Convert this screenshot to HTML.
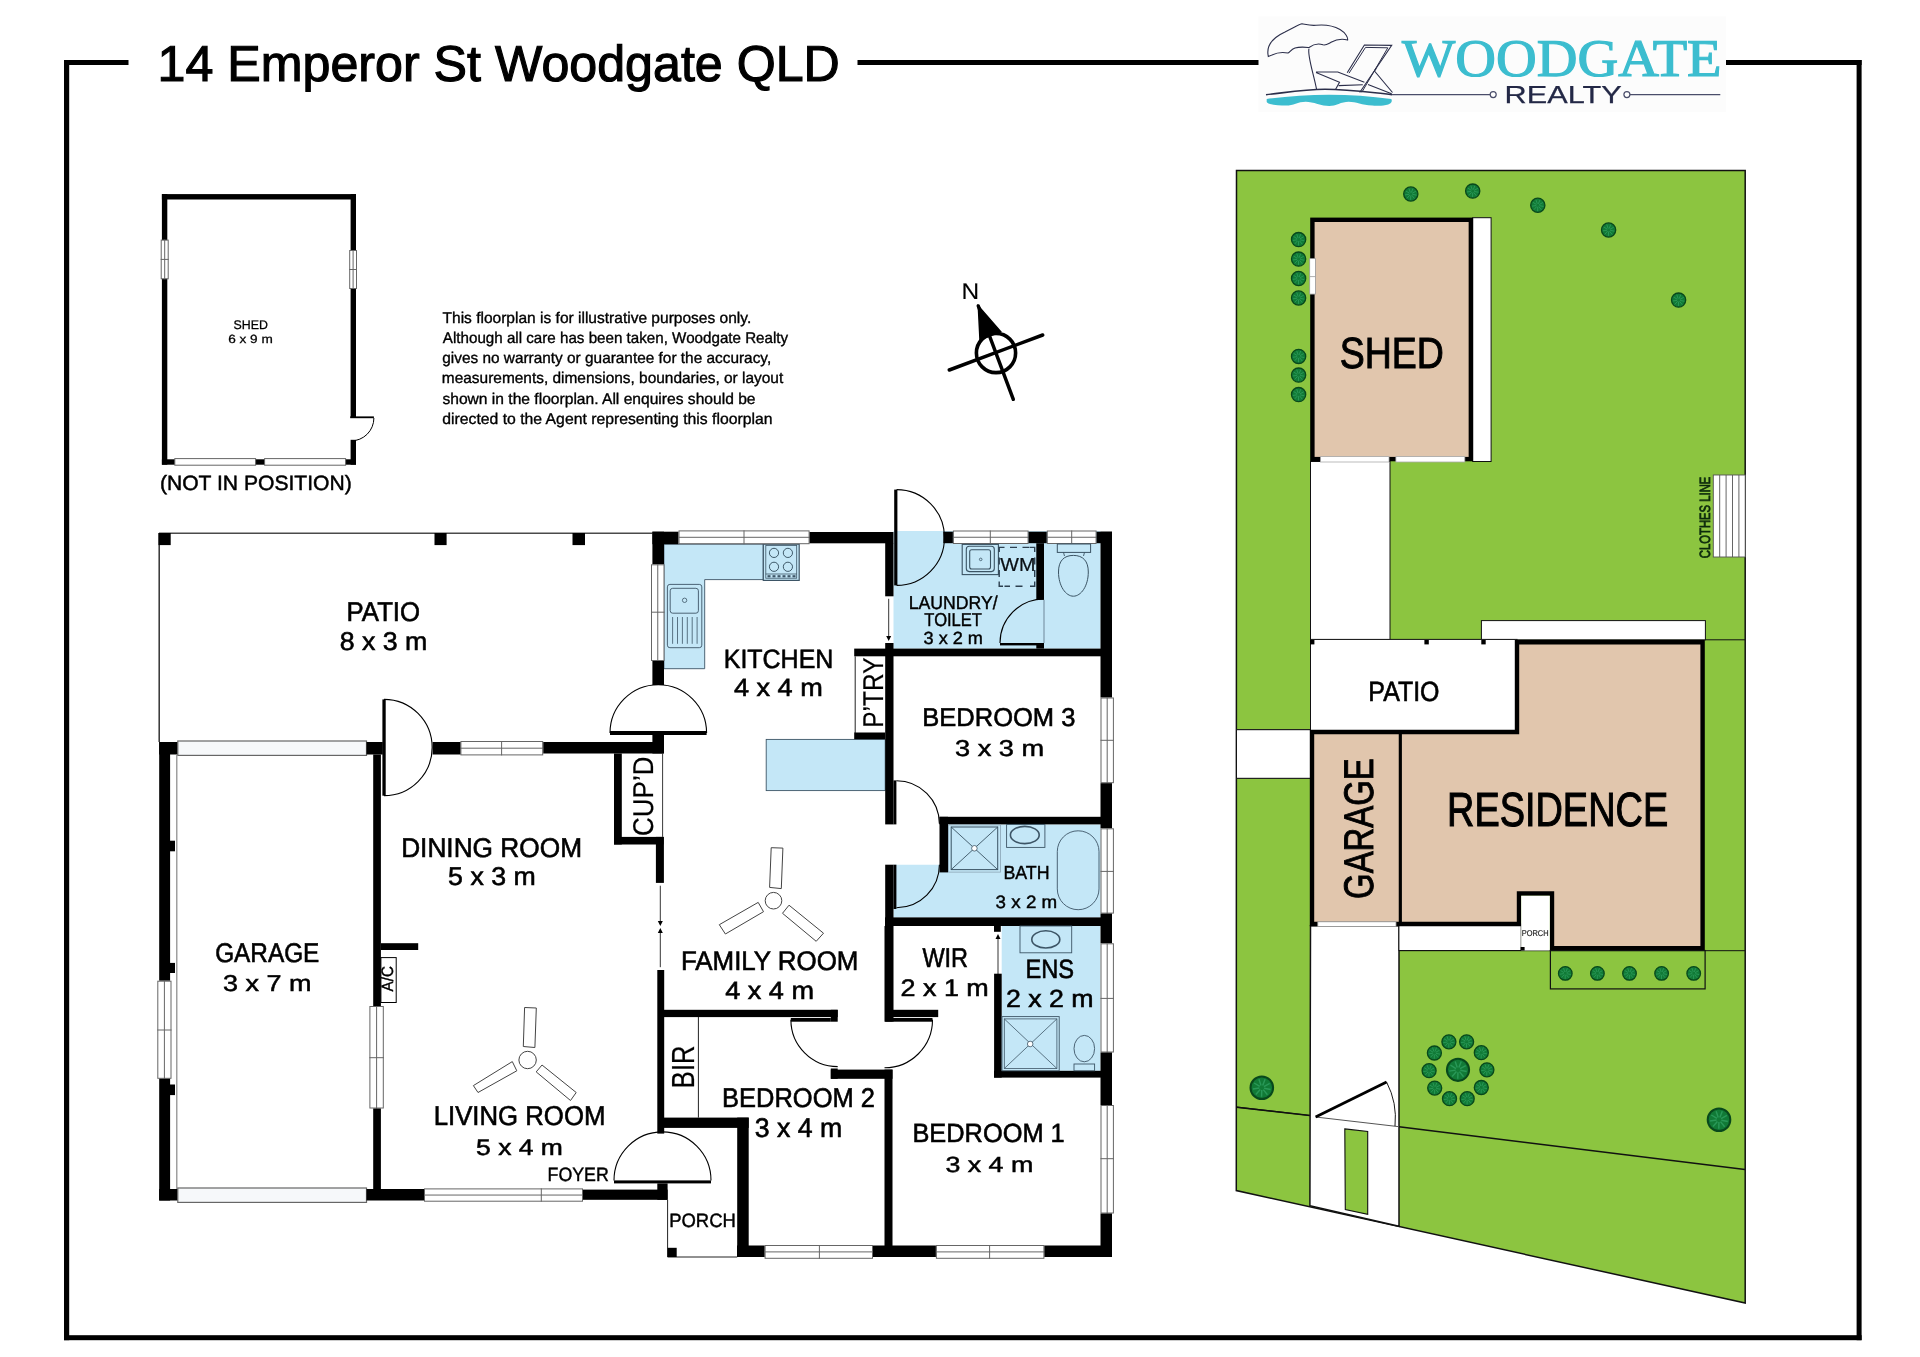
<!DOCTYPE html><html><head><meta charset="utf-8"><style>html,body{margin:0;padding:0;background:#fff;}svg{display:block;will-change:transform}</style></head><body>
<svg width="1920" height="1357" viewBox="0 0 1920 1357" text-rendering="geometricPrecision">
<rect width="1920" height="1357" fill="#fff"/>
<rect x="64" y="60" width="5.2" height="1280.2" fill="#000"/>
<rect x="64" y="60" width="64.5" height="5" fill="#000"/>
<rect x="857.5" y="60" width="402" height="5" fill="#000"/>
<rect x="1726" y="60" width="135.6" height="5" fill="#000"/>
<rect x="1856.6" y="60" width="5" height="1280.2" fill="#000"/>
<rect x="64" y="1335.2" width="1797.6" height="5" fill="#000"/>
<text x="157.56" y="81.13" font-size="50.51" fill="#000" text-anchor="start" font-family="Liberation Sans" textLength="682.27" lengthAdjust="spacingAndGlyphs" stroke="#000" stroke-width="1.15">14 Emperor St Woodgate QLD</text>
<rect x="161.9" y="194.1" width="194.1" height="5.4" fill="#000"/>
<rect x="161.9" y="194.1" width="5.4" height="270.6" fill="#000"/>
<rect x="350.6" y="194.1" width="5.4" height="223.4" fill="#000"/>
<rect x="350.6" y="439.8" width="5.4" height="24.9" fill="#000"/>
<rect x="161.9" y="459.3" width="194.1" height="5.4" fill="#000"/>
<rect x="161.2" y="240.1" width="7" height="38.7" fill="#fff" stroke="#666" stroke-width="1"/>
<line x1="164.7" y1="239.6" x2="164.7" y2="279.3" stroke="#666" stroke-width="1"/>
<line x1="160.7" y1="259.4" x2="168.7" y2="259.4" stroke="#666" stroke-width="1"/>
<rect x="349.7" y="250.5" width="6.8" height="38" fill="#fff" stroke="#666" stroke-width="1"/>
<line x1="353.1" y1="250" x2="353.1" y2="289" stroke="#666" stroke-width="1"/>
<line x1="349.2" y1="269.5" x2="357" y2="269.5" stroke="#666" stroke-width="1"/>
<rect x="350.2" y="416.4" width="23.7" height="1.8" fill="#000"/>
<path d="M373.9,418 A22.9,22.9 0 0 1 351,440.9" fill="none" stroke="#000" stroke-width="1"/>
<rect x="174.8" y="458.6" width="80.8" height="6.6" fill="#fff" stroke="#666" stroke-width="1"/>
<rect x="264.6" y="458.6" width="81" height="6.6" fill="#fff" stroke="#666" stroke-width="1"/>
<text x="233.58" y="329.36" font-size="12.52" fill="#000" text-anchor="start" font-family="Liberation Sans" textLength="34.37" lengthAdjust="spacingAndGlyphs" stroke="#000" stroke-width="0.28">SHED</text>
<text x="228.24" y="342.87" font-size="11.82" fill="#000" text-anchor="start" font-family="Liberation Sans" textLength="44.52" lengthAdjust="spacingAndGlyphs" stroke="#000" stroke-width="0.27">6 x 9 m</text>
<text x="159.93" y="489.86" font-size="20.68" fill="#000" text-anchor="start" font-family="Liberation Sans" textLength="191.84" lengthAdjust="spacingAndGlyphs" stroke="#000" stroke-width="0.47">(NOT IN POSITION)</text>
<text x="442.53" y="322.52" font-size="15.48" fill="#000" text-anchor="start" font-family="Liberation Sans" textLength="308.71" lengthAdjust="spacingAndGlyphs" stroke="#000" stroke-width="0.35">This floorplan is for illustrative purposes only.</text>
<text x="442.85" y="342.78" font-size="15.48" fill="#000" text-anchor="start" font-family="Liberation Sans" textLength="345.31" lengthAdjust="spacingAndGlyphs" stroke="#000" stroke-width="0.35">Although all care has been taken, Woodgate Realty</text>
<text x="442.23" y="363.04" font-size="15.48" fill="#000" text-anchor="start" font-family="Liberation Sans" textLength="328.97" lengthAdjust="spacingAndGlyphs" stroke="#000" stroke-width="0.35">gives no warranty or guarantee for the accuracy,</text>
<text x="441.85" y="383.3" font-size="15.48" fill="#000" text-anchor="start" font-family="Liberation Sans" textLength="341.39" lengthAdjust="spacingAndGlyphs" stroke="#000" stroke-width="0.35">measurements, dimensions, boundaries, or layout</text>
<text x="442.44" y="403.56" font-size="15.48" fill="#000" text-anchor="start" font-family="Liberation Sans" textLength="313.07" lengthAdjust="spacingAndGlyphs" stroke="#000" stroke-width="0.35">shown in the floorplan. All enquires should be</text>
<text x="442.22" y="423.82" font-size="15.48" fill="#000" text-anchor="start" font-family="Liberation Sans" textLength="330.33" lengthAdjust="spacingAndGlyphs" stroke="#000" stroke-width="0.35">directed to the Agent representing this floorplan</text>
<text x="961.55" y="299.34" font-size="22.65" fill="#000" text-anchor="start" font-family="Liberation Sans" textLength="17.69" lengthAdjust="spacingAndGlyphs" stroke="#000" stroke-width="0.11">N</text>
<circle cx="996" cy="353" r="19.6" fill="none" stroke="#000" stroke-width="3.6"/>
<line x1="949.3" y1="370" x2="1042.7" y2="335" stroke="#000" stroke-width="3.5" stroke-linecap="round"/>
<line x1="978.3" y1="306" x2="1013.3" y2="399.3" stroke="#000" stroke-width="3.5" stroke-linecap="round"/>
<path d="M978.3,306 L1000.7,331.7 L980,340 Z" fill="#000" stroke="#000" stroke-width="1.5"/>
<line x1="159" y1="533.2" x2="652.4" y2="533.2" stroke="#4a4a4a" stroke-width="1.6"/>
<line x1="159.2" y1="533" x2="159.2" y2="742" stroke="#333" stroke-width="1.5"/>
<rect x="158.5" y="533" width="12.2" height="12.1" fill="#000"/>
<rect x="434.5" y="533" width="12.1" height="12.1" fill="#000"/>
<rect x="572.5" y="533" width="12.5" height="12.1" fill="#000"/>
<text x="346.6" y="621.49" font-size="27.02" fill="#000" text-anchor="start" font-family="Liberation Sans" textLength="73.47" lengthAdjust="spacingAndGlyphs" stroke="#000" stroke-width="0.61">PATIO</text>
<text x="339.73" y="650.21" font-size="25.61" fill="#000" text-anchor="start" font-family="Liberation Sans" textLength="87.64" lengthAdjust="spacingAndGlyphs" stroke="#000" stroke-width="0.58">8 x 3 m</text>
<rect x="893.5" y="531" width="207" height="117.6" fill="#c4e7f7"/>
<path d="M948,824.4 H1100.5 V917.4 H893.5 V864.7 H948 Z" fill="#c4e7f7"/>
<rect x="1001.7" y="926" width="98.6" height="144.8" fill="#c4e7f7"/>
<path d="M663.9,544.2 H763.3 V579.6 H704.7 V668.7 H663.9 Z" fill="#c4e7f7" stroke="#3d5566" stroke-width="0.9"/>
<rect x="763.3" y="544.2" width="35.9" height="36.2" fill="#c4e7f7" stroke="#3d5566" stroke-width="1.2"/>
<rect x="765.8" y="545.5" width="30.9" height="32.7" fill="none" stroke="#3d5566" stroke-width="0.8"/>
<circle cx="774" cy="552.9" r="4.6" fill="none" stroke="#2f4858" stroke-width="0.9"/>
<circle cx="774" cy="566.8" r="4.6" fill="none" stroke="#2f4858" stroke-width="0.9"/>
<circle cx="787.9" cy="552.9" r="4.6" fill="none" stroke="#2f4858" stroke-width="0.9"/>
<circle cx="787.9" cy="566.8" r="4.6" fill="none" stroke="#2f4858" stroke-width="0.9"/>
<line x1="765.8" y1="574" x2="796.7" y2="574" stroke="#3d5566" stroke-width="0.8"/>
<rect x="767.5" y="575.2" width="3" height="2.1" fill="#3d5566"/>
<rect x="772.5" y="575.2" width="3" height="2.1" fill="#3d5566"/>
<rect x="777.5" y="575.2" width="3" height="2.1" fill="#3d5566"/>
<rect x="782.5" y="575.2" width="3" height="2.1" fill="#3d5566"/>
<rect x="787.5" y="575.2" width="3" height="2.1" fill="#3d5566"/>
<rect x="792.5" y="575.2" width="3" height="2.1" fill="#3d5566"/>
<rect x="667.4" y="584.4" width="34.4" height="63.3" rx="2.5" fill="none" stroke="#3d5566" stroke-width="0.9"/>
<rect x="670.2" y="588.3" width="28.2" height="24.9" rx="2.5" fill="none" stroke="#3d5566" stroke-width="0.9"/>
<circle cx="684.6" cy="600.3" r="2.2" fill="none" stroke="#3d5566" stroke-width="0.8"/>
<line x1="672.6" y1="617" x2="672.6" y2="643.8" stroke="#3d5566" stroke-width="0.8"/>
<line x1="677.5" y1="617" x2="677.5" y2="643.8" stroke="#3d5566" stroke-width="0.8"/>
<line x1="682.4" y1="617" x2="682.4" y2="643.8" stroke="#3d5566" stroke-width="0.8"/>
<line x1="687.3" y1="617" x2="687.3" y2="643.8" stroke="#3d5566" stroke-width="0.8"/>
<line x1="692.2" y1="617" x2="692.2" y2="643.8" stroke="#3d5566" stroke-width="0.8"/>
<line x1="697.1" y1="617" x2="697.1" y2="643.8" stroke="#3d5566" stroke-width="0.8"/>
<rect x="766.2" y="739.4" width="119" height="51.2" fill="#c4e7f7" stroke="#3d5566" stroke-width="0.9"/>
<rect x="652.4" y="531.7" width="11.6" height="32.6" fill="#000"/>
<rect x="651.5" y="564.8" width="12.5" height="95.7" fill="#fff" stroke="#666" stroke-width="1"/>
<line x1="657.75" y1="564.3" x2="657.75" y2="661" stroke="#666" stroke-width="1"/>
<line x1="651" y1="612.2" x2="664.5" y2="612.2" stroke="#666" stroke-width="1"/>
<rect x="652.4" y="661" width="11.6" height="24" fill="#000"/>
<rect x="652.4" y="531.7" width="26.1" height="12.5" fill="#000"/>
<rect x="679" y="530.9" width="130.1" height="12.8" fill="#fff" stroke="#666" stroke-width="1"/>
<line x1="678.5" y1="537.3" x2="809.6" y2="537.3" stroke="#666" stroke-width="1"/>
<line x1="744" y1="530.4" x2="744" y2="544.2" stroke="#666" stroke-width="1"/>
<rect x="809.6" y="532" width="83.9" height="11.3" fill="#000"/>
<path d="M610,733 A48.3,48.3 0 0 1 658.3,684.7 A48.3,48.3 0 0 1 706.6,733" fill="none" stroke="#000" stroke-width="1.1"/>
<rect x="610" y="731" width="96.6" height="4" fill="#000"/>
<rect x="652.4" y="735" width="11.6" height="18.5" fill="#000"/>
<rect x="543.2" y="742" width="120.3" height="11.5" fill="#000"/>
<rect x="460.9" y="741.5" width="81.8" height="13.4" fill="#fff" stroke="#666" stroke-width="1"/>
<line x1="460.4" y1="748.2" x2="543.2" y2="748.2" stroke="#666" stroke-width="1"/>
<line x1="501.6" y1="741" x2="501.6" y2="755.4" stroke="#666" stroke-width="1"/>
<rect x="432.6" y="742" width="27.8" height="12.5" fill="#000"/>
<rect x="382.4" y="699.4" width="3.3" height="96.3" fill="#000"/>
<path d="M384,699.35 A48.15,48.15 0 0 1 432.15,747.5 A48.15,48.15 0 0 1 384,795.65" fill="none" stroke="#000" stroke-width="1.1"/>
<rect x="159.2" y="742" width="18.6" height="12.5" fill="#000"/>
<rect x="177.8" y="741" width="188.7" height="14.4" fill="#f6f8fa" stroke="#666" stroke-width="1.2"/>
<rect x="366.5" y="742" width="16.3" height="12.5" fill="#000"/>
<rect x="159.2" y="742" width="10.9" height="238.7" fill="#000"/>
<rect x="157.8" y="981.2" width="13.2" height="97.1" fill="#fff" stroke="#666" stroke-width="1"/>
<line x1="164.4" y1="980.7" x2="164.4" y2="1078.8" stroke="#666" stroke-width="1"/>
<line x1="157.3" y1="1030" x2="171.5" y2="1030" stroke="#666" stroke-width="1"/>
<rect x="159.2" y="1078.8" width="10.9" height="121.7" fill="#000"/>
<rect x="170" y="840.7" width="5" height="10.6" fill="#000"/>
<rect x="170" y="962.9" width="5" height="10.1" fill="#000"/>
<rect x="170" y="1084.5" width="5" height="10.6" fill="#000"/>
<line x1="176.8" y1="754.5" x2="176.8" y2="1189" stroke="#888" stroke-width="1.2"/>
<rect x="159.2" y="1189" width="18.6" height="11.5" fill="#000"/>
<rect x="177.8" y="1188" width="188.7" height="14.4" fill="#f6f8fa" stroke="#666" stroke-width="1.2"/>
<rect x="366.5" y="1189" width="57.5" height="11.5" fill="#000"/>
<rect x="373.2" y="754.5" width="7.7" height="251.5" fill="#000"/>
<rect x="369.9" y="1006.5" width="13.4" height="101.5" fill="#fff" stroke="#666" stroke-width="1"/>
<line x1="376.6" y1="1006" x2="376.6" y2="1108.5" stroke="#666" stroke-width="1"/>
<line x1="369.4" y1="1057.7" x2="383.8" y2="1057.7" stroke="#666" stroke-width="1"/>
<rect x="373.2" y="1108.5" width="7.7" height="80.5" fill="#000"/>
<rect x="380.9" y="943.2" width="37.3" height="6.8" fill="#000"/>
<rect x="380.9" y="957.6" width="15.3" height="44.9" fill="none" stroke="#000" stroke-width="1"/>
<text x="392.91" y="991.44" font-size="16.6" fill="#000" text-anchor="start" font-family="Liberation Sans" textLength="25.33" lengthAdjust="spacingAndGlyphs" transform="rotate(-90 392.91 991.44)" stroke="#000" stroke-width="0.38">A/C</text>
<text x="215.18" y="962.09" font-size="27.02" fill="#000" text-anchor="start" font-family="Liberation Sans" textLength="104.16" lengthAdjust="spacingAndGlyphs" stroke="#000" stroke-width="0.61">GARAGE</text>
<text x="223.03" y="991.34" font-size="22.93" fill="#000" text-anchor="start" font-family="Liberation Sans" textLength="88.49" lengthAdjust="spacingAndGlyphs" stroke="#000" stroke-width="0.52">3 x 7 m</text>
<rect x="424.5" y="1188.9" width="158" height="12.3" fill="#fff" stroke="#666" stroke-width="1"/>
<line x1="424" y1="1195.05" x2="583" y2="1195.05" stroke="#666" stroke-width="1"/>
<line x1="541.3" y1="1188.4" x2="541.3" y2="1201.7" stroke="#666" stroke-width="1"/>
<rect x="583" y="1189.6" width="84.6" height="10.2" fill="#000"/>
<rect x="657.3" y="1183.4" width="10.3" height="16.4" fill="#000"/>
<path d="M614,1180.4 A48.5,48.5 0 0 1 662.5,1131.9 A48.5,48.5 0 0 1 711,1180.4" fill="none" stroke="#000" stroke-width="1.1"/>
<rect x="614" y="1180.4" width="97" height="3" fill="#000"/>
<rect x="657.3" y="970" width="6.9" height="163.6" fill="#000"/>
<rect x="614" y="753.5" width="7.8" height="91" fill="#000"/>
<rect x="614" y="836.9" width="49.5" height="7.6" fill="#000"/>
<rect x="655.9" y="836.9" width="8" height="46" fill="#000"/>
<line x1="662.6" y1="753.5" x2="662.6" y2="836.9" stroke="#222" stroke-width="0.9"/>
<text x="653.38" y="835.9" font-size="28.59" fill="#000" text-anchor="start" font-family="Liberation Sans" textLength="79.33" lengthAdjust="spacingAndGlyphs" transform="rotate(-90 653.38 835.9)" stroke="#000" stroke-width="0.23">CUP’D</text>
<line x1="660.3" y1="885.7" x2="660.3" y2="924" stroke="#000" stroke-width="0.8"/>
<path d="M657.8,921 L660.3,926 L662.8,921 Z" fill="#000" stroke="none" stroke-width="1"/>
<line x1="660.3" y1="930" x2="660.3" y2="967.2" stroke="#000" stroke-width="0.8"/>
<path d="M657.8,933 L660.3,928 L662.8,933 Z" fill="#000" stroke="none" stroke-width="1"/>
<rect x="885.2" y="543" width="8.3" height="53.3" fill="#000"/>
<line x1="888.7" y1="598.8" x2="888.7" y2="639" stroke="#000" stroke-width="0.8"/>
<path d="M886.2,636 L888.7,641 L891.2,636 Z" fill="#000" stroke="none" stroke-width="1"/>
<rect x="885.2" y="643" width="8.3" height="181.4" fill="#000"/>
<rect x="854.2" y="648.6" width="257.8" height="7.7" fill="#000"/>
<line x1="855.2" y1="656.3" x2="855.2" y2="733" stroke="#222" stroke-width="1"/>
<rect x="854.2" y="732.5" width="31" height="6.7" fill="#000"/>
<text x="882.68" y="727.68" font-size="28.59" fill="#000" text-anchor="start" font-family="Liberation Sans" textLength="70.2" lengthAdjust="spacingAndGlyphs" transform="rotate(-90 882.68 727.68)" stroke="#000" stroke-width="0.23">P’TRY</text>
<rect x="894.2" y="489.6" width="3.2" height="95.8" fill="#000"/>
<path d="M896.6,489.6 A47.9,47.9 0 0 1 944.5,537.5 A47.9,47.9 0 0 1 896.6,585.4" fill="none" stroke="#000" stroke-width="1.1"/>
<rect x="943.3" y="531.7" width="9.6" height="11.5" fill="#000"/>
<rect x="953.4" y="531" width="74.7" height="12.5" fill="#fff" stroke="#666" stroke-width="1"/>
<line x1="952.9" y1="537.25" x2="1028.6" y2="537.25" stroke="#666" stroke-width="1"/>
<line x1="990.3" y1="530.5" x2="990.3" y2="544" stroke="#666" stroke-width="1"/>
<rect x="1028.6" y="531.7" width="18.2" height="11.5" fill="#000"/>
<rect x="1047.3" y="531" width="48.8" height="12.5" fill="#fff" stroke="#666" stroke-width="1"/>
<line x1="1046.8" y1="537.25" x2="1096.6" y2="537.25" stroke="#666" stroke-width="1"/>
<line x1="1071.7" y1="530.5" x2="1071.7" y2="544" stroke="#666" stroke-width="1"/>
<rect x="1096.6" y="531.7" width="15.4" height="11.5" fill="#000"/>
<rect x="1036.3" y="543.2" width="7.7" height="56.6" fill="#000"/>
<rect x="1036.3" y="643" width="7.7" height="5.6" fill="#000"/>
<path d="M1000,643 A44,44 0 0 1 1044,599" fill="none" stroke="#000" stroke-width="1.1"/>
<rect x="1000" y="643" width="37" height="2.4" fill="#000"/>
<line x1="1044" y1="599.8" x2="1044" y2="643" stroke="#4a6070" stroke-width="0.7"/>
<rect x="962.2" y="544.4" width="36.2" height="30.2" fill="none" stroke="#3a5363" stroke-width="1.1"/>
<rect x="966.3" y="546.3" width="28" height="25.3" rx="3" fill="none" stroke="#3a5363" stroke-width="1.1"/>
<rect x="969.7" y="549.7" width="20.8" height="19.3" rx="2" fill="none" stroke="#3a5363" stroke-width="1.1"/>
<circle cx="980.7" cy="559.4" r="1.3" fill="none" stroke="#3a5363" stroke-width="0.8"/>
<path d="M999.2,552 V547.4 H1004.5 M1010,547.4 H1017 M1022.5,547.4 H1029.5 M1034.7,552 V547.4 H1030 M1034.7,557.5 V564.5 M1034.7,570 V577 M1034.7,581.5 V586.3 H1030 M1022.5,586.3 H1015.5 M1010,586.3 H1004.5 M999.2,581.5 V586.3 H1003 M999.2,557.5 V564.5 M999.2,570 V577" fill="none" stroke="#2d4050" stroke-width="1.4"/>
<text x="1000.33" y="571.48" font-size="18.85" fill="#0a0f14" text-anchor="start" font-family="Liberation Sans" textLength="35.08" lengthAdjust="spacingAndGlyphs" stroke="#0a0f14" stroke-width="0.23">WM</text>
<rect x="1057.3" y="544" width="33.3" height="8.4" fill="none" stroke="#3a5363" stroke-width="1"/>
<path d="M1063.5,552.4 L1064.5,556 M1084.5,552.4 L1083.5,556" fill="none" stroke="#3a5363" stroke-width="0.9"/>
<path d="M1073.4,555.4 C1083,555.4 1088.3,561 1088.3,572 C1088.3,586 1081,596.2 1073.4,596.2 C1065.8,596.2 1058.5,586 1058.5,572 C1058.5,561 1063.8,555.4 1073.4,555.4 Z" fill="none" stroke="#3a5363" stroke-width="1"/>
<text x="908.67" y="608.54" font-size="18.64" fill="#000" text-anchor="start" font-family="Liberation Sans" textLength="89.02" lengthAdjust="spacingAndGlyphs" stroke="#000" stroke-width="0.42">LAUNDRY/</text>
<text x="924.34" y="626.29" font-size="18.71" fill="#000" text-anchor="start" font-family="Liberation Sans" textLength="57.62" lengthAdjust="spacingAndGlyphs" stroke="#000" stroke-width="0.43">TOILET</text>
<text x="923.51" y="644" font-size="17.59" fill="#000" text-anchor="start" font-family="Liberation Sans" textLength="59.49" lengthAdjust="spacingAndGlyphs" stroke="#000" stroke-width="0.4">3 x 2 m</text>
<rect x="1100.5" y="531.7" width="11.5" height="165.8" fill="#000"/>
<rect x="1101" y="698" width="12.4" height="84.7" fill="#fff" stroke="#666" stroke-width="1"/>
<line x1="1107.2" y1="697.5" x2="1107.2" y2="783.2" stroke="#666" stroke-width="1"/>
<line x1="1100.5" y1="740.3" x2="1113.9" y2="740.3" stroke="#666" stroke-width="1"/>
<rect x="1100.5" y="783.2" width="11.5" height="45.1" fill="#000"/>
<rect x="1101" y="828.8" width="12.4" height="84.3" fill="#fff" stroke="#666" stroke-width="1"/>
<line x1="1107.2" y1="828.3" x2="1107.2" y2="913.6" stroke="#666" stroke-width="1"/>
<line x1="1100.5" y1="871.4" x2="1113.9" y2="871.4" stroke="#666" stroke-width="1"/>
<rect x="1100.5" y="913.6" width="11.5" height="29.7" fill="#000"/>
<rect x="1101" y="943.8" width="12.4" height="108.2" fill="#fff" stroke="#666" stroke-width="1"/>
<line x1="1107.2" y1="943.3" x2="1107.2" y2="1052.5" stroke="#666" stroke-width="1"/>
<line x1="1100.5" y1="998.4" x2="1113.9" y2="998.4" stroke="#666" stroke-width="1"/>
<rect x="1100.5" y="1052.5" width="11.5" height="52.5" fill="#000"/>
<rect x="1101" y="1105.5" width="12.4" height="107.5" fill="#fff" stroke="#666" stroke-width="1"/>
<line x1="1107.2" y1="1105" x2="1107.2" y2="1213.5" stroke="#666" stroke-width="1"/>
<line x1="1100.5" y1="1158.7" x2="1113.9" y2="1158.7" stroke="#666" stroke-width="1"/>
<rect x="1100.5" y="1213.5" width="11.5" height="43.5" fill="#000"/>
<text x="922.2" y="726.01" font-size="25.75" fill="#000" text-anchor="start" font-family="Liberation Sans" textLength="153.23" lengthAdjust="spacingAndGlyphs" stroke="#000" stroke-width="0.59">BEDROOM 3</text>
<text x="955.03" y="756.14" font-size="22.93" fill="#000" text-anchor="start" font-family="Liberation Sans" textLength="89.11" lengthAdjust="spacingAndGlyphs" stroke="#000" stroke-width="0.52">3 x 3 m</text>
<rect x="893.5" y="780.4" width="2.9" height="44" fill="#000"/>
<path d="M896.4,780.8 A43,43 0 0 1 939.4,823.8" fill="none" stroke="#000" stroke-width="1.1"/>
<rect x="885.2" y="864.7" width="8.3" height="157" fill="#000"/>
<rect x="893.5" y="864.7" width="2.9" height="44.3" fill="#000"/>
<path d="M939.4,864.7 A43,43 0 0 1 896.4,907.7" fill="none" stroke="#000" stroke-width="1.1"/>
<rect x="939.5" y="816.8" width="172.5" height="7.6" fill="#000"/>
<rect x="939.5" y="816.8" width="8.5" height="55.6" fill="#000"/>
<rect x="885" y="917.4" width="227" height="8.6" fill="#000"/>
<rect x="948.6" y="824.9" width="52" height="47.2" fill="none" stroke="#8aa4b4" stroke-width="0.8"/>
<rect x="951.2" y="827" width="46.5" height="42.6" fill="none" stroke="#3a5363" stroke-width="1"/>
<line x1="951.2" y1="827" x2="997.7" y2="869.6" stroke="#3a5363" stroke-width="0.9"/>
<line x1="997.7" y1="827" x2="951.2" y2="869.6" stroke="#3a5363" stroke-width="0.9"/>
<circle cx="974.4" cy="848.3" r="2.8" fill="#fff" stroke="#3a5363" stroke-width="0.8"/>
<rect x="1006.6" y="824.4" width="38.3" height="23" fill="none" stroke="#3d5566" stroke-width="0.9"/>
<ellipse cx="1024.8" cy="835" rx="14.4" ry="8.6" fill="none" stroke="#3d5566" stroke-width="1.6"/>
<rect x="1057.3" y="830.8" width="41.7" height="78.9" rx="20.8" fill="none" stroke="#3d5566" stroke-width="0.9"/>
<text x="1003.4" y="878.99" font-size="18.85" fill="#000" text-anchor="start" font-family="Liberation Sans" textLength="46.1" lengthAdjust="spacingAndGlyphs" stroke="#000" stroke-width="0.43">BATH</text>
<text x="995.59" y="907.5" font-size="17.87" fill="#000" text-anchor="start" font-family="Liberation Sans" textLength="61.65" lengthAdjust="spacingAndGlyphs" stroke="#000" stroke-width="0.41">3 x 2 m</text>
<rect x="994" y="926" width="6.8" height="5.8" fill="#000"/>
<line x1="998" y1="974" x2="998" y2="936" stroke="#000" stroke-width="0.8"/>
<path d="M995.5,939 L998,934 L1000.5,939 Z" fill="#000" stroke="none" stroke-width="1"/>
<rect x="994.1" y="973.7" width="7.6" height="103.9" fill="#000"/>
<rect x="994" y="1070.8" width="117.8" height="6.8" fill="#000"/>
<rect x="1002" y="1016.6" width="57.2" height="54.2" fill="none" stroke="#3d5566" stroke-width="0.9"/>
<rect x="1004.3" y="1018.9" width="52.6" height="49.6" fill="none" stroke="#3d5566" stroke-width="0.8"/>
<line x1="1004.3" y1="1018.9" x2="1056.9" y2="1068.5" stroke="#3d5566" stroke-width="0.8"/>
<line x1="1056.9" y1="1018.9" x2="1004.3" y2="1068.5" stroke="#3d5566" stroke-width="0.8"/>
<circle cx="1030.2" cy="1044" r="2.8" fill="#fff" stroke="#3d5566" stroke-width="0.8"/>
<rect x="1020" y="926" width="51.7" height="26.8" fill="none" stroke="#3d5566" stroke-width="0.9"/>
<ellipse cx="1045.8" cy="939.4" rx="14" ry="8.6" fill="none" stroke="#3d5566" stroke-width="1.6"/>
<ellipse cx="1084.3" cy="1048.6" rx="10.3" ry="13.2" fill="none" stroke="#3d5566" stroke-width="0.9"/>
<rect x="1074" y="1064" width="20.6" height="6.8" fill="none" stroke="#3d5566" stroke-width="0.9"/>
<text x="922.4" y="966.89" font-size="27.02" fill="#000" text-anchor="start" font-family="Liberation Sans" textLength="45.68" lengthAdjust="spacingAndGlyphs" stroke="#000" stroke-width="0.61">WIR</text>
<text x="900.52" y="996.23" font-size="24.06" fill="#000" text-anchor="start" font-family="Liberation Sans" textLength="88.28" lengthAdjust="spacingAndGlyphs" stroke="#000" stroke-width="0.55">2 x 1 m</text>
<text x="1025.46" y="977.9" font-size="26.45" fill="#000" text-anchor="start" font-family="Liberation Sans" textLength="48.62" lengthAdjust="spacingAndGlyphs" stroke="#000" stroke-width="0.6">ENS</text>
<text x="1005.94" y="1007.12" font-size="24.76" fill="#000" text-anchor="start" font-family="Liberation Sans" textLength="87.64" lengthAdjust="spacingAndGlyphs" stroke="#000" stroke-width="0.56">2 x 2 m</text>
<rect x="664" y="1009.8" width="173.7" height="7.3" fill="#000"/>
<rect x="830.8" y="1009.8" width="6.9" height="11.9" fill="#000"/>
<rect x="790.8" y="1018" width="40" height="3.7" fill="#000"/>
<path d="M837.7,1066.6 A46.8,46.8 0 0 1 790.9,1019.8" fill="none" stroke="#000" stroke-width="1.1"/>
<rect x="830.8" y="1068.5" width="6.9" height="10.3" fill="#000"/>
<rect x="830.8" y="1069.6" width="61.7" height="9.2" fill="#000"/>
<rect x="884.5" y="926" width="8" height="95.7" fill="#000"/>
<rect x="892.5" y="1009.8" width="45.7" height="7.3" fill="#000"/>
<rect x="892.5" y="1018" width="40" height="3.7" fill="#000"/>
<path d="M932.5,1019.8 A48,48 0 0 1 884.5,1067.8" fill="none" stroke="#000" stroke-width="1.1"/>
<rect x="884.5" y="1069.6" width="8" height="187.4" fill="#000"/>
<line x1="698.4" y1="1017" x2="698.4" y2="1117.6" stroke="#222" stroke-width="1"/>
<rect x="664" y="1117.6" width="84.7" height="10.3" fill="#000"/>
<rect x="737.2" y="1117.6" width="11.5" height="139.4" fill="#000"/>
<rect x="737" y="1245.5" width="27.7" height="11.5" fill="#000"/>
<text x="693.67" y="1088.17" font-size="31.89" fill="#000" text-anchor="start" font-family="Liberation Sans" textLength="42.73" lengthAdjust="spacingAndGlyphs" transform="rotate(-90 693.67 1088.17)" stroke="#000" stroke-width="0.26">BIR</text>
<line x1="667.6" y1="1199.8" x2="667.6" y2="1257" stroke="#222" stroke-width="1"/>
<line x1="667.6" y1="1257" x2="737.2" y2="1257" stroke="#222" stroke-width="1"/>
<rect x="667.6" y="1247.8" width="9.1" height="9.2" fill="#000"/>
<rect x="765.1" y="1245.5" width="107.4" height="12.8" fill="#fff" stroke="#666" stroke-width="1"/>
<line x1="764.6" y1="1251.9" x2="873" y2="1251.9" stroke="#666" stroke-width="1"/>
<line x1="819.4" y1="1245" x2="819.4" y2="1258.8" stroke="#666" stroke-width="1"/>
<rect x="873" y="1245.5" width="62.9" height="11.5" fill="#000"/>
<rect x="936.4" y="1245.5" width="107.5" height="12.8" fill="#fff" stroke="#666" stroke-width="1"/>
<line x1="935.9" y1="1251.9" x2="1044.4" y2="1251.9" stroke="#666" stroke-width="1"/>
<line x1="989.6" y1="1245" x2="989.6" y2="1258.8" stroke="#666" stroke-width="1"/>
<rect x="1044.4" y="1245.5" width="67.4" height="11.5" fill="#000"/>
<text x="401.15" y="856.69" font-size="27.02" fill="#000" text-anchor="start" font-family="Liberation Sans" textLength="180.89" lengthAdjust="spacingAndGlyphs" stroke="#000" stroke-width="0.61">DINING ROOM</text>
<text x="448.12" y="885.41" font-size="25.61" fill="#000" text-anchor="start" font-family="Liberation Sans" textLength="87.55" lengthAdjust="spacingAndGlyphs" stroke="#000" stroke-width="0.58">5 x 3 m</text>
<text x="680.92" y="970.49" font-size="26.87" fill="#000" text-anchor="start" font-family="Liberation Sans" textLength="177.55" lengthAdjust="spacingAndGlyphs" stroke="#000" stroke-width="0.61">FAMILY ROOM</text>
<text x="725.16" y="998.52" font-size="24.9" fill="#000" text-anchor="start" font-family="Liberation Sans" textLength="88.84" lengthAdjust="spacingAndGlyphs" stroke="#000" stroke-width="0.57">4 x 4 m</text>
<text x="723.75" y="667.5" font-size="26.59" fill="#000" text-anchor="start" font-family="Liberation Sans" textLength="109.58" lengthAdjust="spacingAndGlyphs" stroke="#000" stroke-width="0.6">KITCHEN</text>
<text x="733.96" y="696.42" font-size="24.9" fill="#000" text-anchor="start" font-family="Liberation Sans" textLength="88.84" lengthAdjust="spacingAndGlyphs" stroke="#000" stroke-width="0.57">4 x 4 m</text>
<text x="433.7" y="1125.29" font-size="27.3" fill="#000" text-anchor="start" font-family="Liberation Sans" textLength="171.7" lengthAdjust="spacingAndGlyphs" stroke="#000" stroke-width="0.62">LIVING ROOM</text>
<text x="476.1" y="1155.04" font-size="22.51" fill="#000" text-anchor="start" font-family="Liberation Sans" textLength="86.79" lengthAdjust="spacingAndGlyphs" stroke="#000" stroke-width="0.51">5 x 4 m</text>
<text x="547.56" y="1181.38" font-size="19.28" fill="#000" text-anchor="start" font-family="Liberation Sans" textLength="61.25" lengthAdjust="spacingAndGlyphs" stroke="#000" stroke-width="0.44">FOYER</text>
<text x="669.21" y="1226.98" font-size="19.28" fill="#000" text-anchor="start" font-family="Liberation Sans" textLength="66.58" lengthAdjust="spacingAndGlyphs" stroke="#000" stroke-width="0.44">PORCH</text>
<text x="722.12" y="1107.49" font-size="27.02" fill="#000" text-anchor="start" font-family="Liberation Sans" textLength="152.75" lengthAdjust="spacingAndGlyphs" stroke="#000" stroke-width="0.61">BEDROOM 2</text>
<text x="754.79" y="1136.59" font-size="27.02" fill="#000" text-anchor="start" font-family="Liberation Sans" textLength="87.46" lengthAdjust="spacingAndGlyphs" stroke="#000" stroke-width="0.61">3 x 4 m</text>
<text x="912.42" y="1142.4" font-size="26.31" fill="#000" text-anchor="start" font-family="Liberation Sans" textLength="152.32" lengthAdjust="spacingAndGlyphs" stroke="#000" stroke-width="0.6">BEDROOM 1</text>
<text x="945.43" y="1171.75" font-size="21.95" fill="#000" text-anchor="start" font-family="Liberation Sans" textLength="87.89" lengthAdjust="spacingAndGlyphs" stroke="#000" stroke-width="0.5">3 x 4 m</text>
<circle cx="773.5" cy="900.7" r="8.3" fill="#fff" stroke="#444" stroke-width="1"/>
<path d="M771.2,847.7 L782.9,848.1 L781.3,888.6 L769.6,887.4 Z" fill="#fff" stroke="#444" stroke-width="1"/>
<path d="M719.3,924.7 L758.2,902.4 L763.5,911.7 L725.4,934 Z" fill="#fff" stroke="#444" stroke-width="1"/>
<path d="M782.5,913.3 L789,905.2 L823.5,933.2 L816.2,941.3 Z" fill="#fff" stroke="#444" stroke-width="1"/>
<circle cx="527.6" cy="1060" r="8.7" fill="#fff" stroke="#444" stroke-width="1"/>
<path d="M524.6,1007.5 L536.3,1008 L534.9,1047.5 L523.3,1046.5 Z" fill="#fff" stroke="#444" stroke-width="1"/>
<path d="M473.4,1085.6 L512.3,1061.6 L516.8,1070.8 L478,1092.5 Z" fill="#fff" stroke="#444" stroke-width="1"/>
<path d="M536.2,1071.9 L542,1065 L576.2,1092.5 L570.5,1100.5 Z" fill="#fff" stroke="#444" stroke-width="1"/>
<path d="M1236.5,170.6 H1745.2 V1303 L1236.3,1190.6 Z" fill="#8cc540" stroke="#111" stroke-width="1.5"/>
<line x1="1705" y1="639.8" x2="1745" y2="639.8" stroke="#111" stroke-width="1"/>
<line x1="1399" y1="950.7" x2="1745" y2="950.7" stroke="#111" stroke-width="1"/>
<line x1="1236.5" y1="729.7" x2="1310.5" y2="729.7" stroke="#111" stroke-width="1"/>
<line x1="1236.5" y1="778.3" x2="1310.5" y2="778.3" stroke="#111" stroke-width="1"/>
<line x1="1236.7" y1="1107.2" x2="1310" y2="1115.5" stroke="#111" stroke-width="1.5"/>
<line x1="1399" y1="1126.7" x2="1745" y2="1169.6" stroke="#111" stroke-width="1.5"/>
<rect x="1310.5" y="461.5" width="79.5" height="178.3" fill="#fff" stroke="#111" stroke-width="1"/>
<rect x="1236.5" y="729.7" width="74" height="48.6" fill="#fff" stroke="#111" stroke-width="1"/>
<rect x="1481.4" y="620.6" width="224" height="19.2" fill="#fff" stroke="#111" stroke-width="1"/>
<path d="M1310.5,925.7 H1399 V1226.3 L1309.9,1205.7 Z" fill="#fff" stroke="#111" stroke-width="1.5"/>
<line x1="1236.7" y1="1107.2" x2="1310" y2="1115.5" stroke="#111" stroke-width="1.2"/>
<line x1="1315.6" y1="1117" x2="1399" y2="1126.7" stroke="#555" stroke-width="1"/>
<line x1="1315.6" y1="1117" x2="1386.6" y2="1082.1" stroke="#000" stroke-width="2.8"/>
<path d="M1386.6,1082.1 A78,78 0 0 1 1395,1126.1" fill="none" stroke="#000" stroke-width="0.9"/>
<path d="M1344.8,1128.9 L1367.7,1131.5 L1367.7,1214.4 L1345.3,1209.5 Z" fill="#8cc540" stroke="#111" stroke-width="1.1"/>
<rect x="1310.5" y="639.4" width="206.5" height="92.6" fill="#fff" stroke="#111" stroke-width="1"/>
<rect x="1310" y="640" width="4.4" height="4.4" fill="#000"/>
<rect x="1424.4" y="640" width="4.4" height="4.4" fill="#000"/>
<rect x="1481.3" y="640" width="4.4" height="4.4" fill="#000"/>
<rect x="1398.9" y="924" width="122.3" height="26.5" fill="#fff" stroke="#111" stroke-width="1"/>
<path d="M1517,642.2 H1702.6 V948.3 H1552 V893.5 H1519 V924 H1312 V732 H1517 Z" fill="#e1c6ad" stroke="#000" stroke-width="4.4"/>
<rect x="1521.2" y="895.75" width="28.6" height="54.75" fill="#fff"/>
<rect x="1520.6" y="947" width="4" height="3.5" fill="#000"/>
<rect x="1398.75" y="732" width="3.15" height="192" fill="#000"/>
<rect x="1317.8" y="921.8" width="78.2" height="4.6" fill="#fff" stroke="#999" stroke-width="0.8"/>
<rect x="1550.4" y="950.5" width="154.7" height="38.4" fill="none" stroke="#111" stroke-width="1.2"/>
<rect x="1472.7" y="217.7" width="18.4" height="243.8" fill="#fff" stroke="#111" stroke-width="1"/>
<rect x="1312.4" y="219.8" width="158.45" height="239.3" fill="#e1c6ad" stroke="#000" stroke-width="4.4"/>
<rect x="1309.7" y="258.6" width="5.7" height="35.5" fill="#fff" stroke="#999" stroke-width="0.8"/>
<line x1="1309.7" y1="276.6" x2="1315.4" y2="276.6" stroke="#999" stroke-width="0.8"/>
<rect x="1320.6" y="456.6" width="68.4" height="5.4" fill="#fff" stroke="#aaa" stroke-width="0.8"/>
<rect x="1395.9" y="456.6" width="68.9" height="5.4" fill="#fff" stroke="#aaa" stroke-width="0.8"/>
<rect x="1713.3" y="475" width="31.9" height="82" fill="#fff" stroke="#555" stroke-width="0.9"/>
<line x1="1719.7" y1="475" x2="1719.7" y2="557" stroke="#555" stroke-width="0.9"/>
<line x1="1726.1" y1="475" x2="1726.1" y2="557" stroke="#555" stroke-width="0.9"/>
<line x1="1732.5" y1="475" x2="1732.5" y2="557" stroke="#555" stroke-width="0.9"/>
<line x1="1738.9" y1="475" x2="1738.9" y2="557" stroke="#555" stroke-width="0.9"/>
<text x="1709.6" y="558.17" font-size="14.83" fill="#0c2a0c" text-anchor="start" font-family="Liberation Sans" textLength="81.56" lengthAdjust="spacingAndGlyphs" transform="rotate(-90 1709.6 558.17)" stroke="#0c2a0c" stroke-width="0.8">CLOTHES LINE</text>
<text x="1339.79" y="367.5" font-size="43.62" fill="#000" text-anchor="start" font-family="Liberation Sans" textLength="104.1" lengthAdjust="spacingAndGlyphs" stroke="#000" stroke-width="0.99">SHED</text>
<text x="1368.37" y="701.38" font-size="27.86" fill="#000" text-anchor="start" font-family="Liberation Sans" textLength="71.15" lengthAdjust="spacingAndGlyphs" stroke="#000" stroke-width="0.63">PATIO</text>
<text x="1447.03" y="826.46" font-size="47.84" fill="#000" text-anchor="start" font-family="Liberation Sans" textLength="221.15" lengthAdjust="spacingAndGlyphs" stroke="#000" stroke-width="1.09">RESIDENCE</text>
<text x="1373.33" y="898.88" font-size="41.37" fill="#000" text-anchor="start" font-family="Liberation Sans" textLength="140.62" lengthAdjust="spacingAndGlyphs" transform="rotate(-90 1373.33 898.88)" stroke="#000" stroke-width="0.94">GARAGE</text>
<text x="1521.79" y="936.4" font-size="8.44" fill="#222" text-anchor="start" font-family="Liberation Sans" textLength="26.82" lengthAdjust="spacingAndGlyphs" stroke="#222" stroke-width="0.19">PORCH</text>
<circle cx="1410.8" cy="194" r="7.1" fill="#117a36" stroke="#08481c" stroke-width="1.33"/>
<path d="M1412.33,194.31 L1416.53,195.16 M1411.77,195.22 L1414.44,198.58 M1410.76,195.56 L1410.65,199.85 M1409.77,195.17 L1406.93,198.38 M1409.26,194.23 L1405.01,194.87 M1409.47,193.19 L1405.81,190.95 M1410.3,192.52 L1408.94,188.45 M1411.37,192.55 L1412.94,188.56 M1412.17,193.25 L1415.94,191.2 " stroke="#2e9e5e" stroke-width="0.94" fill="none" opacity="0.85"/>
<circle cx="1472.7" cy="191.1" r="7.1" fill="#117a36" stroke="#08481c" stroke-width="1.33"/>
<path d="M1474.23,191.41 L1478.43,192.26 M1473.67,192.32 L1476.34,195.68 M1472.66,192.66 L1472.55,196.95 M1471.67,192.27 L1468.83,195.48 M1471.16,191.33 L1466.91,191.97 M1471.37,190.29 L1467.71,188.05 M1472.2,189.62 L1470.84,185.55 M1473.27,189.65 L1474.84,185.66 M1474.07,190.35 L1477.84,188.3 " stroke="#2e9e5e" stroke-width="0.94" fill="none" opacity="0.85"/>
<circle cx="1537.8" cy="205.3" r="7.1" fill="#117a36" stroke="#08481c" stroke-width="1.33"/>
<path d="M1539.33,205.61 L1543.53,206.46 M1538.77,206.52 L1541.44,209.88 M1537.76,206.86 L1537.65,211.15 M1536.77,206.47 L1533.93,209.68 M1536.26,205.53 L1532.01,206.17 M1536.47,204.49 L1532.81,202.25 M1537.3,203.82 L1535.94,199.75 M1538.37,203.85 L1539.94,199.86 M1539.17,204.55 L1542.94,202.5 " stroke="#2e9e5e" stroke-width="0.94" fill="none" opacity="0.85"/>
<circle cx="1608.6" cy="230" r="7.1" fill="#117a36" stroke="#08481c" stroke-width="1.33"/>
<path d="M1610.13,230.31 L1614.33,231.16 M1609.57,231.22 L1612.24,234.58 M1608.56,231.56 L1608.45,235.85 M1607.57,231.17 L1604.73,234.38 M1607.06,230.23 L1602.81,230.87 M1607.27,229.19 L1603.61,226.95 M1608.1,228.52 L1606.74,224.45 M1609.17,228.55 L1610.74,224.56 M1609.97,229.25 L1613.74,227.2 " stroke="#2e9e5e" stroke-width="0.94" fill="none" opacity="0.85"/>
<circle cx="1678.6" cy="300.1" r="7.1" fill="#117a36" stroke="#08481c" stroke-width="1.33"/>
<path d="M1680.13,300.41 L1684.33,301.26 M1679.57,301.32 L1682.24,304.68 M1678.56,301.66 L1678.45,305.95 M1677.57,301.27 L1674.73,304.48 M1677.06,300.33 L1672.81,300.97 M1677.27,299.29 L1673.61,297.05 M1678.1,298.62 L1676.74,294.55 M1679.17,298.65 L1680.74,294.66 M1679.97,299.35 L1683.74,297.3 " stroke="#2e9e5e" stroke-width="0.94" fill="none" opacity="0.85"/>
<circle cx="1298.6" cy="239.6" r="7.1" fill="#117a36" stroke="#08481c" stroke-width="1.33"/>
<path d="M1300.13,239.91 L1304.33,240.76 M1299.57,240.82 L1302.24,244.18 M1298.56,241.16 L1298.45,245.45 M1297.57,240.77 L1294.73,243.98 M1297.06,239.83 L1292.81,240.47 M1297.27,238.79 L1293.61,236.55 M1298.1,238.12 L1296.74,234.05 M1299.17,238.15 L1300.74,234.16 M1299.97,238.85 L1303.74,236.8 " stroke="#2e9e5e" stroke-width="0.94" fill="none" opacity="0.85"/>
<circle cx="1298.6" cy="259.1" r="7.1" fill="#117a36" stroke="#08481c" stroke-width="1.33"/>
<path d="M1300.13,259.41 L1304.33,260.26 M1299.57,260.32 L1302.24,263.68 M1298.56,260.66 L1298.45,264.95 M1297.57,260.27 L1294.73,263.48 M1297.06,259.33 L1292.81,259.97 M1297.27,258.29 L1293.61,256.05 M1298.1,257.62 L1296.74,253.55 M1299.17,257.65 L1300.74,253.66 M1299.97,258.35 L1303.74,256.3 " stroke="#2e9e5e" stroke-width="0.94" fill="none" opacity="0.85"/>
<circle cx="1298.6" cy="278.5" r="7.1" fill="#117a36" stroke="#08481c" stroke-width="1.33"/>
<path d="M1300.13,278.81 L1304.33,279.66 M1299.57,279.72 L1302.24,283.08 M1298.56,280.06 L1298.45,284.35 M1297.57,279.67 L1294.73,282.88 M1297.06,278.73 L1292.81,279.37 M1297.27,277.69 L1293.61,275.45 M1298.1,277.02 L1296.74,272.95 M1299.17,277.05 L1300.74,273.06 M1299.97,277.75 L1303.74,275.7 " stroke="#2e9e5e" stroke-width="0.94" fill="none" opacity="0.85"/>
<circle cx="1298.6" cy="298" r="7.1" fill="#117a36" stroke="#08481c" stroke-width="1.33"/>
<path d="M1300.13,298.31 L1304.33,299.16 M1299.57,299.22 L1302.24,302.58 M1298.56,299.56 L1298.45,303.85 M1297.57,299.17 L1294.73,302.38 M1297.06,298.23 L1292.81,298.87 M1297.27,297.19 L1293.61,294.95 M1298.1,296.52 L1296.74,292.45 M1299.17,296.55 L1300.74,292.56 M1299.97,297.25 L1303.74,295.2 " stroke="#2e9e5e" stroke-width="0.94" fill="none" opacity="0.85"/>
<circle cx="1298.6" cy="356.4" r="7.1" fill="#117a36" stroke="#08481c" stroke-width="1.33"/>
<path d="M1300.13,356.71 L1304.33,357.56 M1299.57,357.62 L1302.24,360.98 M1298.56,357.96 L1298.45,362.25 M1297.57,357.57 L1294.73,360.78 M1297.06,356.63 L1292.81,357.27 M1297.27,355.59 L1293.61,353.35 M1298.1,354.92 L1296.74,350.85 M1299.17,354.95 L1300.74,350.96 M1299.97,355.65 L1303.74,353.6 " stroke="#2e9e5e" stroke-width="0.94" fill="none" opacity="0.85"/>
<circle cx="1298.6" cy="375.1" r="7.1" fill="#117a36" stroke="#08481c" stroke-width="1.33"/>
<path d="M1300.13,375.41 L1304.33,376.26 M1299.57,376.32 L1302.24,379.68 M1298.56,376.66 L1298.45,380.95 M1297.57,376.27 L1294.73,379.48 M1297.06,375.33 L1292.81,375.97 M1297.27,374.29 L1293.61,372.05 M1298.1,373.62 L1296.74,369.55 M1299.17,373.65 L1300.74,369.66 M1299.97,374.35 L1303.74,372.3 " stroke="#2e9e5e" stroke-width="0.94" fill="none" opacity="0.85"/>
<circle cx="1298.6" cy="394.6" r="7.1" fill="#117a36" stroke="#08481c" stroke-width="1.33"/>
<path d="M1300.13,394.91 L1304.33,395.76 M1299.57,395.82 L1302.24,399.18 M1298.56,396.16 L1298.45,400.45 M1297.57,395.77 L1294.73,398.98 M1297.06,394.83 L1292.81,395.47 M1297.27,393.79 L1293.61,391.55 M1298.1,393.12 L1296.74,389.05 M1299.17,393.15 L1300.74,389.16 M1299.97,393.85 L1303.74,391.8 " stroke="#2e9e5e" stroke-width="0.94" fill="none" opacity="0.85"/>
<circle cx="1565.3" cy="973.4" r="6.8" fill="#117a36" stroke="#08481c" stroke-width="1.28"/>
<path d="M1566.77,973.7 L1570.81,974.52 M1566.23,974.57 L1568.8,977.8 M1565.26,974.9 L1565.16,979.02 M1564.31,974.52 L1561.58,977.62 M1563.82,973.62 L1559.74,974.24 M1564.02,972.62 L1560.5,970.46 M1564.82,971.98 L1563.51,968.07 M1565.85,972 L1567.36,968.16 M1566.62,972.68 L1570.24,970.71 " stroke="#2e9e5e" stroke-width="0.9" fill="none" opacity="0.85"/>
<circle cx="1597.4" cy="973.4" r="6.8" fill="#117a36" stroke="#08481c" stroke-width="1.28"/>
<path d="M1598.87,973.7 L1602.91,974.52 M1598.33,974.57 L1600.9,977.8 M1597.36,974.9 L1597.26,979.02 M1596.41,974.52 L1593.68,977.62 M1595.92,973.62 L1591.84,974.24 M1596.12,972.62 L1592.6,970.46 M1596.92,971.98 L1595.61,968.07 M1597.95,972 L1599.46,968.16 M1598.72,972.68 L1602.34,970.71 " stroke="#2e9e5e" stroke-width="0.9" fill="none" opacity="0.85"/>
<circle cx="1629.5" cy="973.4" r="6.8" fill="#117a36" stroke="#08481c" stroke-width="1.28"/>
<path d="M1630.97,973.7 L1635.01,974.52 M1630.43,974.57 L1633,977.8 M1629.46,974.9 L1629.36,979.02 M1628.51,974.52 L1625.78,977.62 M1628.02,973.62 L1623.94,974.24 M1628.22,972.62 L1624.7,970.46 M1629.02,971.98 L1627.71,968.07 M1630.05,972 L1631.56,968.16 M1630.82,972.68 L1634.44,970.71 " stroke="#2e9e5e" stroke-width="0.9" fill="none" opacity="0.85"/>
<circle cx="1661.6" cy="973.4" r="6.8" fill="#117a36" stroke="#08481c" stroke-width="1.28"/>
<path d="M1663.07,973.7 L1667.11,974.52 M1662.53,974.57 L1665.1,977.8 M1661.56,974.9 L1661.46,979.02 M1660.61,974.52 L1657.88,977.62 M1660.12,973.62 L1656.04,974.24 M1660.32,972.62 L1656.8,970.46 M1661.12,971.98 L1659.81,968.07 M1662.15,972 L1663.66,968.16 M1662.92,972.68 L1666.54,970.71 " stroke="#2e9e5e" stroke-width="0.9" fill="none" opacity="0.85"/>
<circle cx="1693.7" cy="973.4" r="6.8" fill="#117a36" stroke="#08481c" stroke-width="1.28"/>
<path d="M1695.17,973.7 L1699.21,974.52 M1694.63,974.57 L1697.2,977.8 M1693.66,974.9 L1693.56,979.02 M1692.71,974.52 L1689.98,977.62 M1692.22,973.62 L1688.14,974.24 M1692.42,972.62 L1688.9,970.46 M1693.22,971.98 L1691.91,968.07 M1694.25,972 L1695.76,968.16 M1695.02,972.68 L1698.64,970.71 " stroke="#2e9e5e" stroke-width="0.9" fill="none" opacity="0.85"/>
<circle cx="1448.9" cy="1041.8" r="7" fill="#117a36" stroke="#08481c" stroke-width="1.31"/>
<path d="M1450.41,1042.11 L1454.56,1042.95 M1449.86,1043 L1452.5,1046.32 M1448.86,1043.34 L1448.75,1047.57 M1447.88,1042.95 L1445.08,1046.13 M1447.38,1042.03 L1443.19,1042.66 M1447.59,1041 L1443.97,1038.79 M1448.41,1040.34 L1447.06,1036.32 M1449.46,1040.37 L1451.01,1036.43 M1450.25,1041.06 L1453.97,1039.04 " stroke="#2e9e5e" stroke-width="0.92" fill="none" opacity="0.85"/>
<circle cx="1466.6" cy="1041.8" r="7" fill="#117a36" stroke="#08481c" stroke-width="1.31"/>
<path d="M1468.11,1042.11 L1472.26,1042.95 M1467.56,1043 L1470.2,1046.32 M1466.56,1043.34 L1466.45,1047.57 M1465.58,1042.95 L1462.78,1046.13 M1465.08,1042.03 L1460.89,1042.66 M1465.29,1041 L1461.67,1038.79 M1466.11,1040.34 L1464.76,1036.32 M1467.16,1040.37 L1468.71,1036.43 M1467.95,1041.06 L1471.67,1039.04 " stroke="#2e9e5e" stroke-width="0.92" fill="none" opacity="0.85"/>
<circle cx="1481.3" cy="1052.7" r="7" fill="#117a36" stroke="#08481c" stroke-width="1.31"/>
<path d="M1482.81,1053.01 L1486.96,1053.85 M1482.26,1053.9 L1484.9,1057.22 M1481.26,1054.24 L1481.15,1058.47 M1480.28,1053.85 L1477.48,1057.03 M1479.78,1052.93 L1475.59,1053.56 M1479.99,1051.9 L1476.37,1049.69 M1480.81,1051.24 L1479.46,1047.22 M1481.86,1051.27 L1483.41,1047.33 M1482.65,1051.96 L1486.37,1049.94 " stroke="#2e9e5e" stroke-width="0.92" fill="none" opacity="0.85"/>
<circle cx="1486.9" cy="1069.8" r="7" fill="#117a36" stroke="#08481c" stroke-width="1.31"/>
<path d="M1488.41,1070.11 L1492.56,1070.95 M1487.86,1071 L1490.5,1074.32 M1486.86,1071.34 L1486.75,1075.57 M1485.88,1070.95 L1483.08,1074.13 M1485.38,1070.03 L1481.19,1070.66 M1485.59,1069 L1481.97,1066.79 M1486.41,1068.34 L1485.06,1064.32 M1487.46,1068.37 L1489.01,1064.43 M1488.25,1069.06 L1491.97,1067.04 " stroke="#2e9e5e" stroke-width="0.92" fill="none" opacity="0.85"/>
<circle cx="1481.3" cy="1087.5" r="7" fill="#117a36" stroke="#08481c" stroke-width="1.31"/>
<path d="M1482.81,1087.81 L1486.96,1088.65 M1482.26,1088.7 L1484.9,1092.02 M1481.26,1089.04 L1481.15,1093.27 M1480.28,1088.65 L1477.48,1091.83 M1479.78,1087.73 L1475.59,1088.36 M1479.99,1086.7 L1476.37,1084.49 M1480.81,1086.04 L1479.46,1082.02 M1481.86,1086.07 L1483.41,1082.13 M1482.65,1086.76 L1486.37,1084.74 " stroke="#2e9e5e" stroke-width="0.92" fill="none" opacity="0.85"/>
<circle cx="1467.2" cy="1098.7" r="7" fill="#117a36" stroke="#08481c" stroke-width="1.31"/>
<path d="M1468.71,1099.01 L1472.86,1099.85 M1468.16,1099.9 L1470.8,1103.22 M1467.16,1100.24 L1467.05,1104.47 M1466.18,1099.85 L1463.38,1103.03 M1465.68,1098.93 L1461.49,1099.56 M1465.89,1097.9 L1462.27,1095.69 M1466.71,1097.24 L1465.36,1093.22 M1467.76,1097.27 L1469.31,1093.33 M1468.55,1097.96 L1472.27,1095.94 " stroke="#2e9e5e" stroke-width="0.92" fill="none" opacity="0.85"/>
<circle cx="1449.5" cy="1098.7" r="7" fill="#117a36" stroke="#08481c" stroke-width="1.31"/>
<path d="M1451.01,1099.01 L1455.16,1099.85 M1450.46,1099.9 L1453.1,1103.22 M1449.46,1100.24 L1449.35,1104.47 M1448.48,1099.85 L1445.68,1103.03 M1447.98,1098.93 L1443.79,1099.56 M1448.19,1097.9 L1444.57,1095.69 M1449.01,1097.24 L1447.66,1093.22 M1450.06,1097.27 L1451.61,1093.33 M1450.85,1097.96 L1454.57,1095.94 " stroke="#2e9e5e" stroke-width="0.92" fill="none" opacity="0.85"/>
<circle cx="1434.7" cy="1088.1" r="7" fill="#117a36" stroke="#08481c" stroke-width="1.31"/>
<path d="M1436.21,1088.41 L1440.36,1089.25 M1435.66,1089.3 L1438.3,1092.62 M1434.66,1089.64 L1434.55,1093.87 M1433.68,1089.25 L1430.88,1092.43 M1433.18,1088.33 L1428.99,1088.96 M1433.39,1087.3 L1429.77,1085.09 M1434.21,1086.64 L1432.86,1082.62 M1435.26,1086.67 L1436.81,1082.73 M1436.05,1087.36 L1439.77,1085.34 " stroke="#2e9e5e" stroke-width="0.92" fill="none" opacity="0.85"/>
<circle cx="1429.1" cy="1070.7" r="7" fill="#117a36" stroke="#08481c" stroke-width="1.31"/>
<path d="M1430.61,1071.01 L1434.76,1071.85 M1430.06,1071.9 L1432.7,1075.22 M1429.06,1072.24 L1428.95,1076.47 M1428.08,1071.85 L1425.28,1075.03 M1427.58,1070.93 L1423.39,1071.56 M1427.79,1069.9 L1424.17,1067.69 M1428.61,1069.24 L1427.26,1065.22 M1429.66,1069.27 L1431.21,1065.33 M1430.45,1069.96 L1434.17,1067.94 " stroke="#2e9e5e" stroke-width="0.92" fill="none" opacity="0.85"/>
<circle cx="1434.4" cy="1053" r="7" fill="#117a36" stroke="#08481c" stroke-width="1.31"/>
<path d="M1435.91,1053.31 L1440.06,1054.15 M1435.36,1054.2 L1438,1057.52 M1434.36,1054.54 L1434.25,1058.77 M1433.38,1054.15 L1430.58,1057.33 M1432.88,1053.23 L1428.69,1053.86 M1433.09,1052.2 L1429.47,1049.99 M1433.91,1051.54 L1432.56,1047.52 M1434.96,1051.57 L1436.51,1047.63 M1435.75,1052.26 L1439.47,1050.24 " stroke="#2e9e5e" stroke-width="0.92" fill="none" opacity="0.85"/>
<circle cx="1458" cy="1069.8" r="11.1" fill="#117a36" stroke="#08481c" stroke-width="2.01"/>
<path d="M1460.31,1070.27 L1466.67,1071.56 M1459.47,1071.65 L1463.51,1076.72 M1457.94,1072.16 L1457.77,1078.65 M1456.44,1071.57 L1452.14,1076.43 M1455.67,1070.15 L1449.25,1071.11 M1455.99,1068.57 L1450.45,1065.18 M1457.25,1067.56 L1455.19,1061.41 M1458.86,1067.6 L1461.24,1061.56 M1460.07,1068.67 L1465.77,1065.57 " stroke="#2e9e5e" stroke-width="1.42" fill="none" opacity="0.85"/>
<circle cx="1261.8" cy="1087.7" r="11.3" fill="#117a36" stroke="#08481c" stroke-width="2.04"/>
<path d="M1264.15,1088.18 L1270.62,1089.49 M1263.3,1089.58 L1267.41,1094.74 M1261.74,1090.1 L1261.57,1096.7 M1260.21,1089.5 L1255.84,1094.44 M1259.43,1088.06 L1252.9,1089.04 M1259.75,1086.45 L1254.12,1083 M1261.04,1085.42 L1258.94,1079.17 M1262.68,1085.47 L1265.09,1079.32 M1263.91,1086.55 L1269.71,1083.4 " stroke="#2e9e5e" stroke-width="1.44" fill="none" opacity="0.85"/>
<circle cx="1719" cy="1119.7" r="11.3" fill="#117a36" stroke="#08481c" stroke-width="2.04"/>
<path d="M1721.35,1120.18 L1727.82,1121.49 M1720.5,1121.58 L1724.61,1126.74 M1718.94,1122.1 L1718.77,1128.7 M1717.41,1121.5 L1713.04,1126.44 M1716.63,1120.06 L1710.1,1121.04 M1716.95,1118.45 L1711.32,1115 M1718.24,1117.42 L1716.14,1111.17 M1719.88,1117.47 L1722.29,1111.32 M1721.11,1118.55 L1726.91,1115.4 " stroke="#2e9e5e" stroke-width="1.44" fill="none" opacity="0.85"/>
<rect x="1258.5" y="16.5" width="467.5" height="95.5" fill="#fcfcfc"/>
<text x="1402.05" y="75.8" font-size="52.84" fill="#3cbdcf" text-anchor="start" font-family="Liberation Serif" textLength="319.51" lengthAdjust="spacingAndGlyphs" stroke="#3cbdcf" stroke-width="1.2">WOODGATE</text>
<text x="1504.56" y="103.37" font-size="24.64" fill="#232846" text-anchor="start" font-family="Liberation Sans" textLength="117.08" lengthAdjust="spacingAndGlyphs" stroke="#232846" stroke-width="0.25">REALTY</text>
<line x1="1392" y1="94.6" x2="1490" y2="94.6" stroke="#4a4d6a" stroke-width="1.3"/>
<circle cx="1493.2" cy="94.6" r="3" fill="#fff" stroke="#4a4d6a" stroke-width="1.2"/>
<circle cx="1626.9" cy="94.6" r="3" fill="#fff" stroke="#4a4d6a" stroke-width="1.2"/>
<line x1="1630" y1="94.6" x2="1720.3" y2="94.6" stroke="#4a4d6a" stroke-width="1.3"/>
<path d="M1268.3,56.4 C1266,46 1272,38 1285,32 C1295,27 1300,24 1302,23.8 C1306,24.5 1310,25.8 1316,25.3 C1324,24.5 1332,25 1340,29.5 C1346,33 1348,38 1347.6,40 C1342,38.5 1336,39.5 1331,42.3 C1327,44.5 1326,45.5 1323,44.8 C1318,43 1313,44.5 1309,47.5 C1304,47 1300,46.5 1295,48 C1291,49.5 1290,52 1288,53 C1283,52 1277,52.5 1272,55 Z" fill="none" stroke="#2b2e4a" stroke-width="1.1"/>
<path d="M1309,48.6 C1307,55 1314,75 1316.7,90" fill="none" stroke="#2b2e4a" stroke-width="1.1"/>
<path d="M1347.2,72.8 L1364.4,45 L1391.7,45.4 L1359.7,92.5" fill="none" stroke="#2b2e4a" stroke-width="1.1"/>
<path d="M1349,73.2 L1365.5,47.4 L1387.8,47.8 L1361.8,92.3" fill="none" stroke="#2b2e4a" stroke-width="1"/>
<path d="M1316,72 L1337.8,72 L1364.4,82.2 M1316,72.5 L1339.5,82.2 L1335.5,89.5" fill="none" stroke="#2b2e4a" stroke-width="1.1"/>
<path d="M1338.6,85.6 L1362.8,84.8 M1376.2,68.4 L1374.5,71 L1392.5,92.5 M1368,84.5 L1391.6,93.8" fill="none" stroke="#2b2e4a" stroke-width="1.1"/>
<path d="M1266,94.7 C1290,92 1305,89.5 1325,89.3 C1350,89.3 1370,92.5 1392,94.6" fill="none" stroke="#2b2e4a" stroke-width="1.6"/>
<path d="M1266.7,99 Q1329.2,90.5 1391.3,99 C1393,102 1390,104.5 1386,105 C1380,106 1376,106 1372.2,105.6 C1362,105 1356,101.7 1348.75,101.7 C1341,101.7 1336,106 1329.2,106 C1322,106 1313,101.7 1305.8,101.7 C1298,101.7 1293,105.6 1286.25,105.6 C1279,105.6 1268,105 1266.7,102 Z" fill="#3cbdcf" stroke="none" stroke-width="1"/>
</svg></body></html>
